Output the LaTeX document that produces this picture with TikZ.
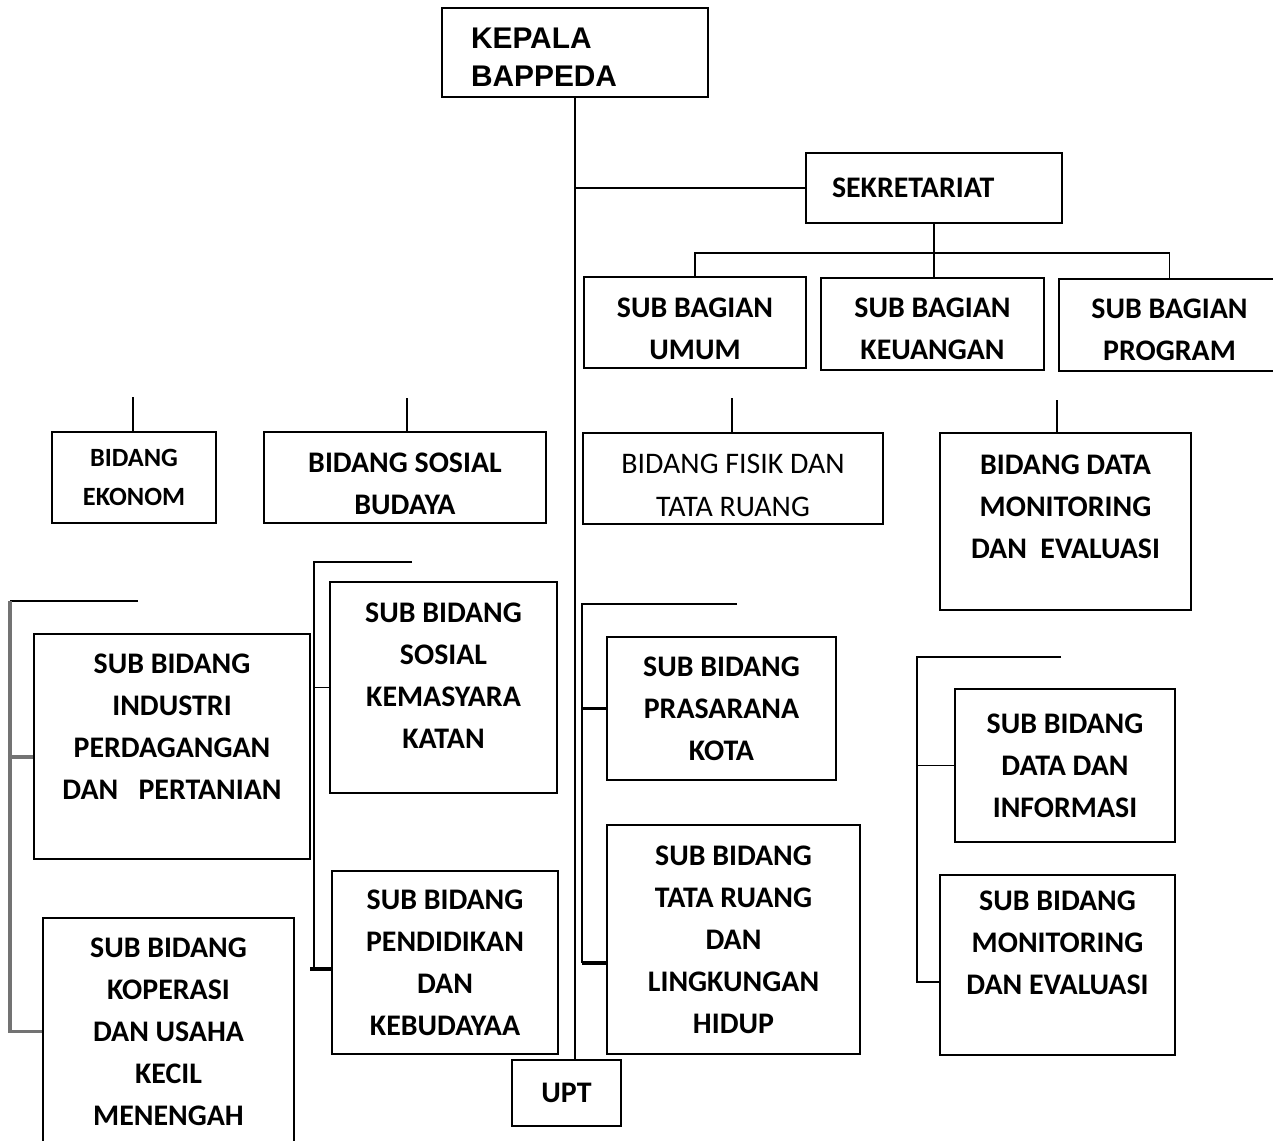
\documentclass[tikz,border=0pt]{standalone}
\usepackage{fontspec}
\setmainfont{Carlito}
\newfontfamily\kepalafont{Liberation Sans}
\usetikzlibrary{positioning, calc}

\begin{document}
\begin{tikzpicture}[x=0.02cm, y=-0.02cm, line width=1pt,
  wh/.style 2 args={minimum width=#1*0.02cm, minimum height=#2*0.02cm},
  box/.style={draw, inner sep=0pt, align=center, font=\fontsize{17}{23.9}\selectfont\bfseries},
  smallbox/.style={box, font=\fontsize{15}{22.2}\selectfont\bfseries},
  plainbox/.style={box, font=\fontsize{17}{24.4}\selectfont},
  tick/.style={line width=2pt},
  greybar/.style={draw=black!55, line width=1.8pt}]
  \path[use as bounding box, fill=white] (0,0) rectangle (1273,1140);

  % pimpinan dan sekretariat
  \node[box, text width=4.16cm, align=left, inner xsep=0.58cm, wh={266}{89},
    font=\kepalafont\fontsize{17}{21.6}\selectfont\bfseries] (kepala) at (575,52.5) {\mbox{}\\[-4.9pt]KEPALA\\BAPPEDA};
  \node[box, text width=4.08cm, align=left, inner xsep=0.52cm, wh={256}{70}] (sekr) at (934,188) {SEKRETARIAT};
  \node[box, wh={222}{91}] (umum) at (695,322.5) {\mbox{}\\[-6.1pt]SUB BAGIAN\\UMUM};
  \node[box, wh={223}{92}] (keu) at (932.5,324) {\mbox{}\\[-7.2pt]SUB BAGIAN\\KEUANGAN};
  \node[box, wh={221}{92}] (prog) at (1169.5,325) {\mbox{}\\[-7.2pt]SUB BAGIAN\\PROGRAM};

  % bidang
  \node[smallbox, wh={164}{91}] (ekonom) at (134,477.5) {BIDANG\\EKONOM};
  \node[box, wh={282}{91}] (sosbud) at (405,477.5) {\mbox{}\\[-6.1pt]BIDANG SOSIAL\\BUDAYA};
  \node[plainbox, wh={300}{91}] (fisik) at (733,478.5) {\mbox{}\\[-5.6pt]BIDANG FISIK DAN\\TATA RUANG};
  \node[box, wh={251}{177}] (datmon) at (1065.5,521.5) {BIDANG DATA\\MONITORING\\DAN~~EVALUASI\\[-7.4pt]\mbox{}};

  % sub bidang
  \node[box, wh={276}{225}] (ind) at (172,746.5) {SUB BIDANG\\INDUSTRI\\PERDAGANGAN\\DAN~~~PERTANIAN\\[-1.8pt]\mbox{}};
  \node[box, wh={251}{227}] (kop) at (168.5,1031.5) {SUB BIDANG\\KOPERASI\\DAN USAHA\\KECIL\\MENENGAH};
  \node[box, wh={227}{211}] (soskem) at (443.5,687.5) {SUB BIDANG\\SOSIAL\\KEMASYARA\\KATAN\\[-10.3pt]\mbox{}};
  \node[box, wh={226}{183}] (pend) at (445,962.5) {SUB BIDANG\\PENDIDIKAN\\DAN\\KEBUDAYAA};
  \node[box, wh={229}{143}] (pras) at (721.5,708.5) {SUB BIDANG\\PRASARANA\\KOTA};
  \node[box, wh={253}{229}] (tata) at (733.5,939.5) {SUB BIDANG\\TATA RUANG\\DAN\\LINGKUNGAN\\HIDUP};
  \node[box, wh={220}{153}] (datinfo) at (1065,765.5) {SUB BIDANG\\DATA DAN\\INFORMASI};
  \node[box, wh={235}{180}] (monev) at (1057.5,965) {SUB BIDANG\\MONITORING\\DAN EVALUASI\\[1.6pt]\mbox{}};
  \node[box, wh={109}{66}] (upt) at (566.5,1093) {UPT};

  % garis utama
  \draw (kepala.south) -- (kepala.south |- upt.north);
  \draw (kepala.south |- sekr.west) -- (sekr.west);
  \draw (sekr.south) -- (sekr.south |- keu.north);
  \coordinate (bus) at (933,253);
  \draw (umum.north) |- (bus) -| (prog.north);

  % garis pendek di atas bidang
  \coordinate (tEk) at (133,397);
  \coordinate (tSb) at (407,398);
  \coordinate (tFi) at (732,398);
  \coordinate (tDm) at (1057,400);
  \foreach \t/\b in {tEk/ekonom, tSb/sosbud, tFi/fisik, tDm/datmon}
    \draw (\t) -- (\t |- \b.north);

  % bidang ekonomi
  \coordinate (ekTop) at (138,601);
  \coordinate (ekBar) at (10,601);
  \coordinate (ekInd) at (10,757);
  \draw (ekTop) -- (ekBar);
  \draw[greybar] (ekBar) |- (kop.west);
  \draw[greybar] (ekInd) -- (ekInd -| ind.west);

  % bidang sosial budaya
  \coordinate (sbTop) at (412,562);
  \coordinate (sbBar) at (314,562);
  \coordinate (sbBot) at (314,969);
  \draw (sbTop) -- (sbBar) -- (sbBot);
  \draw (sbBar |- soskem.west) -- (soskem.west);
  \draw[tick] ([xshift=-0.08cm]sbBot) -- (sbBot -| pend.west);

  % bidang fisik
  \coordinate (fiTop) at (737,604);
  \coordinate (fiBar) at (582,604);
  \coordinate (fiBot) at (582,963);
  \draw (fiTop) -- (fiBar) -- (fiBot);
  \draw[tick] (fiBar |- pras.west) -- (pras.west);
  \draw[tick] (fiBot) -- (fiBot -| tata.west);

  % bidang data
  \coordinate (dmTop) at (1061,657);
  \coordinate (dmBar) at (917,657);
  \coordinate (dmBot) at (917,982);
  \draw (dmTop) -- (dmBar) -- (dmBot) -- (dmBot -| monev.west);
  \draw (dmBar |- datinfo.west) -- (datinfo.west);
\end{tikzpicture}
\end{document}
